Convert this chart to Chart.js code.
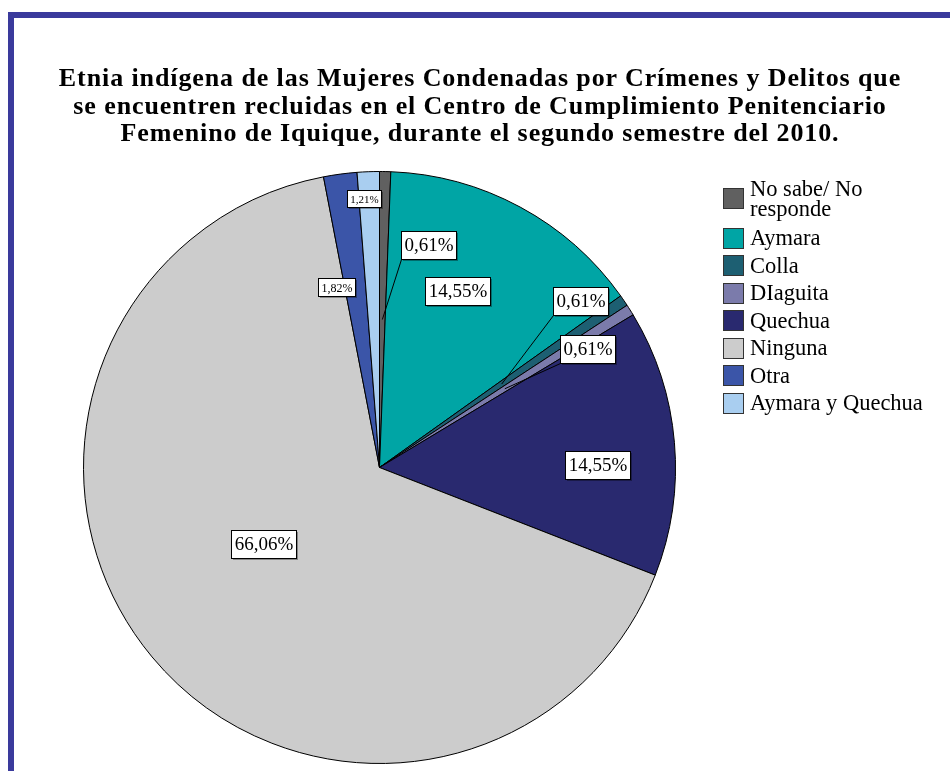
<!DOCTYPE html>
<html lang="es">
<head>
    <meta charset="UTF-8">
    <title>Etnia indígena de las Mujeres Condenadas</title>
    <style>
        body {
            margin: 0;
            background: #fff;
            font-family: "Liberation Serif", "Times New Roman", serif;
        }
        #wrap {
            position: relative;
            width: 950px;
            height: 771px;
            overflow: hidden;
        }
        #frame {
            position: absolute;
            left: 8px;
            top: 12px;
            width: 1000px;
            height: 800px;
            border-left: 6px solid #3a3a9c;
            border-top: 6px solid #3a3a9c;
        }
        #chart {
            position: absolute;
            left: 0;
            top: 0;
        }
        #title {
            position: absolute;
            left: 10px;
            width: 940px;
            top: 64px;
            text-align: center;
            font-weight: bold;
            font-size: 26px;
            letter-spacing: 0.9px;
            line-height: 27.5px;
            color: #000;
        }
        #legend {
            position: absolute;
            left: 723px;
            top: 173px;
            font-size: 22.5px;
            color: #000;
        }
        .item {
            display: flex;
            align-items: center;
            height: 27.5px;
        }
        .item.tall {
            height: 51.5px;
        }
        .item .box {
            width: 21px;
            height: 21px;
            box-sizing: border-box;
            border: 1px solid #333;
            margin-right: 6px;
            flex: none;
        }
        .item .txt {
            line-height: 20px;
        }
    </style>
    <script src="https://cdn.jsdelivr.net/npm/chart.js"></script>
</head>
<body>
<div id="wrap">
    <div id="frame"></div>
    <canvas id="chart" width="950" height="771"></canvas>
    <div id="title">Etnia indígena de las Mujeres Condenadas por Crímenes y Delitos que<br>se encuentren recluidas en el Centro de Cumplimiento Penitenciario<br>Femenino de Iquique, durante el segundo semestre del 2010.</div>
    <div id="legend"></div>
</div>

<script>
    // categories, in drawing order (clockwise from 12 o'clock)
    const categories = ['No sabe/ No responde', 'Aymara', 'Colla', 'DIaguita', 'Quechua', 'Ninguna', 'Otra', 'Aymara y Quechua'];
    // percentages
    const percents = [0.61, 14.55, 0.61, 0.61, 14.55, 66.06, 1.82, 1.21];
    const colors = ['#606060', '#00a5a5', '#1d5f72', '#7b7bab', '#29296f', '#cccccc', '#3b55a8', '#a9cef0'];

    // where each value box sits, in units of the radius from the pie centre
    const labelSpots = [
        { x: 0.166, y: -0.753, size: 19, leader: 0.50 },
        { x: 0.264, y: -0.595, size: 19 },
        { x: 0.679, y: -0.561, size: 19, leader: 0.50 },
        { x: 0.703, y: -0.402, size: 19, leader: 0.50 },
        { x: 0.736, y: -0.007, size: 19 },
        { x: -0.392, y: 0.257, size: 19 },
        { x: -0.145, y: -0.611, size: 12 },
        { x: -0.051, y: -0.909, size: 11 }
    ];

    // legend (html)
    const legend = document.getElementById('legend');
    categories.forEach((name, i) => {
        const row = document.createElement('div');
        row.className = 'item' + (i === 0 ? ' tall' : '');
        const txt = i === 0 ? 'No sabe/ No<br>responde' : name;
        row.innerHTML = `<span class="box" style="background:${colors[i]}"></span><span class="txt">${txt}</span>`;
        legend.appendChild(row);
    });

    function fmt(v) {
        return v.toFixed(2).replace('.', ',') + '%';
    }

    // draws the white value boxes and the leader lines
    const valueBoxes = {
        id: 'valueBoxes',
        afterDatasetsDraw(chart) {
            const ctx = chart.ctx;
            const arcs = chart.getDatasetMeta(0).data;
            ctx.save();
            arcs.forEach((arc, i) => {
                const spot = labelSpots[i];
                const p = arc.getProps(['x', 'y', 'startAngle', 'endAngle', 'outerRadius'], true);
                const R = p.outerRadius;
                const cx = p.x + spot.x * R;
                const cy = p.y + spot.y * R;
                ctx.font = spot.size + 'px "Liberation Serif", serif';
                const text = fmt(percents[i]);
                const tw = ctx.measureText(text).width;
                const padX = spot.size > 14 ? 3 : 3;
                const w = Math.round(tw + padX * 2);
                const h = spot.size > 14 ? 28 : Math.round(spot.size * 1.5);
                const bx = Math.round(cx - w / 2) + 0.5;
                const by = Math.round(cy - h / 2) + 0.5;

                if (spot.leader) {
                    const mid = (p.startAngle + p.endAngle) / 2;
                    const ax = p.x + Math.cos(mid) * R * spot.leader;
                    const ay = p.y + Math.sin(mid) * R * spot.leader;
                    ctx.strokeStyle = '#000';
                    ctx.lineWidth = 1;
                    ctx.beginPath();
                    ctx.moveTo(bx, by + h);
                    ctx.lineTo(ax, ay);
                    ctx.stroke();
                }

                ctx.fillStyle = 'rgba(0,0,0,0.35)';
                ctx.fillRect(bx + 1.5, by + 1.5, w, h);
                ctx.fillStyle = '#fff';
                ctx.fillRect(bx, by, w, h);
                ctx.strokeStyle = '#000';
                ctx.lineWidth = 1;
                ctx.strokeRect(bx, by, w, h);

                ctx.fillStyle = '#000';
                ctx.textAlign = 'center';
                ctx.textBaseline = 'middle';
                ctx.fillText(text, bx + w / 2, by + h / 2 + 1);
            });
            ctx.restore();
        }
    };

    new Chart(document.getElementById('chart'), {
        type: 'pie',
        data: {
            labels: categories,
            datasets: [{
                data: percents,
                backgroundColor: colors,
                borderColor: '#000',
                borderWidth: 1,
                hoverOffset: 0
            }]
        },
        options: {
            responsive: false,
            animation: false,
            layout: {
                padding: { left: 83, right: 274, top: 171, bottom: 7 }
            },
            plugins: {
                legend: { display: false },
                title: { display: false },
                tooltip: { enabled: false }
            }
        },
        plugins: [valueBoxes]
    });
</script>
</body>
</html>
